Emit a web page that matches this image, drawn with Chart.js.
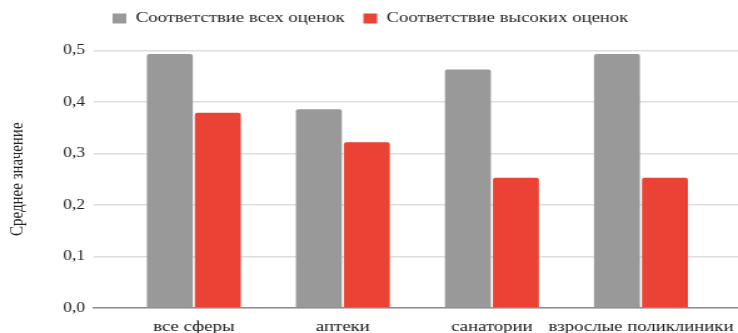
<!DOCTYPE html>
<html>
<head>
<meta charset="utf-8">
<script src="https://cdn.jsdelivr.net/npm/chart.js@4"></script>
<style>
  body { margin: 0; background: #fff; overflow: hidden; }
  /* исходная картинка растянута по горизонтали, повторяем это */
  #wrap { width: 590px; height: 333px; transform: scaleX(1.2508); transform-origin: 0 0; }
</style>
</head>
<body>
<div id="wrap"><canvas id="myChart"></canvas></div>
<script>
// данные с диаграммы
const categories = ['все сферы', 'аптеки', 'санатории', 'взрослые поликлиники'];
const seriesNames = ['Соответствие всех оценок', 'Соответствие высоких оценок'];
const allScores = [0.493, 0.386, 0.463, 0.493];
const highScores = [0.379, 0.322, 0.253, 0.253];
const yTitle = 'Среднее значение';

const serif = '"Liberation Serif", "Times New Roman", serif';

// отступ между легендой и областью графика
const legendGap = {
    id: 'legendGap',
    beforeInit(chart) {
        const fit = chart.legend.fit;
        chart.legend.fit = function () {
            fit.call(this);
            this.height = 54.5;
        };
    }
};

function toPoints(values) {
    return values.map((v, i) => ({ x: i, y: v }));
}

const ctx = document.getElementById('myChart').getContext('2d');
const myChart = new Chart(ctx, {
    type: 'bar',
    data: {
        datasets: [
            {
                label: seriesNames[0],
                data: toPoints(allScores),
                backgroundColor: '#999999',
                borderWidth: 0,
                borderRadius: 2,
            },
            {
                label: seriesNames[1],
                data: toPoints(highScores),
                backgroundColor: '#ea4335',
                borderWidth: 0,
                borderRadius: 2,
            },
        ],
    },
    options: {
        responsive: true,
        maintainAspectRatio: false,
        animation: false,
        categoryPercentage: 0.644,
        barPercentage: 0.958,
        layout: { padding: { top: -4 } },
        plugins: {
            legend: {
                position: 'top',
                align: 'start',
                fullSize: false,
                labels: {
                    boxWidth: 11,
                    boxHeight: 10,
                    padding: 15,
                    color: '#222',
                    font: { family: serif, size: 15 },
                },
            },
            tooltip: { enabled: false },
        },
        scales: {
            x: {
                type: 'linear',
                bounds: 'data',
                min: -0.671,
                max: 3.651,
                offset: false,
                grid: { display: false },
                border: { display: true, color: '#8f8f8f', width: 1.5 },
                // одна метка на каждую категорию
                afterBuildTicks: (scale) => {
                    scale.ticks = categories.map((c, i) => ({ value: i }));
                },
                ticks: {
                    autoSkip: false,
                    maxRotation: 0,
                    padding: 2,
                    color: '#111',
                    font: { family: serif, size: 15 },
                    callback: (v) => categories[v] || '',
                },
                afterFit: (scale) => { scale.height = 25; },
            },
            y: {
                min: 0,
                max: 0.5,
                grid: { color: '#dedede', lineWidth: 1.5, drawTicks: false },
                border: { display: false },
                ticks: {
                    stepSize: 0.1,
                    padding: 7,
                    color: '#222',
                    font: { family: serif, size: 14 },
                    callback: (v) => v.toFixed(1).replace('.', ','),
                },
                title: {
                    display: true,
                    text: yTitle,
                    color: '#222',
                    font: { family: serif, size: 15 },
                    padding: { top: 5, bottom: 0 },
                },
                afterFit: (scale) => { scale.width = 75; },
            },
        },
    },
    plugins: [legendGap],
});
</script>
</body>
</html>
